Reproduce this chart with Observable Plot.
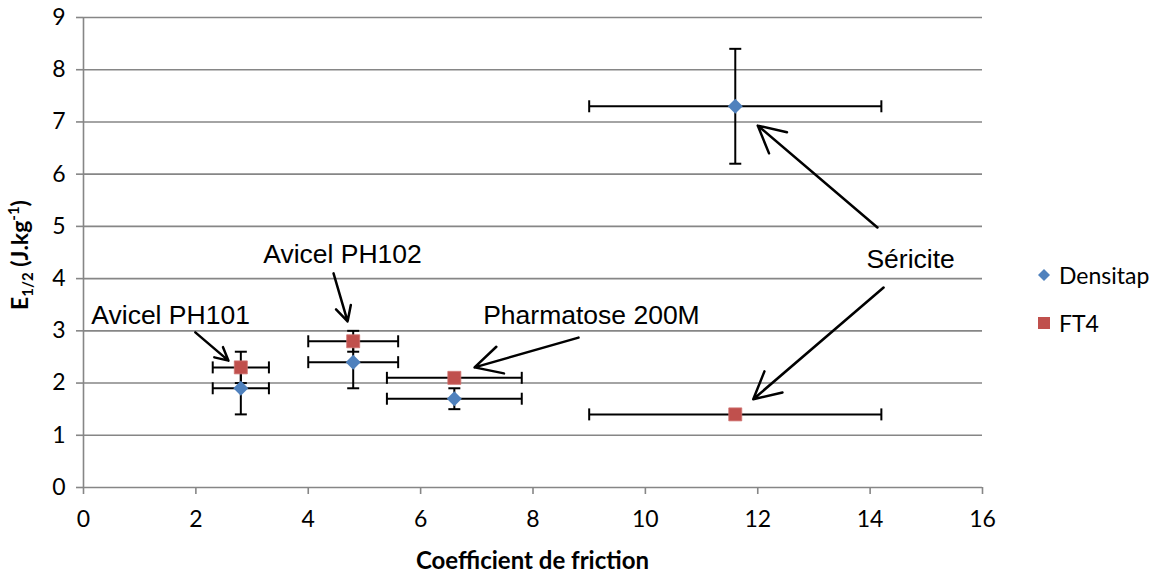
<!DOCTYPE html>
<html>
<head>
<meta charset="utf-8">
<script src="https://cdn.jsdelivr.net/npm/d3@7"></script>
<script src="https://cdn.jsdelivr.net/npm/@observablehq/plot@0.6"></script>
<style>
  html, body { margin: 0; padding: 0; background: #fff; }
  #wrap { position: relative; width: 1164px; height: 579px; font-family: Lato, sans-serif; }
  #wrap svg.chart { position: absolute; left: 0; top: 0; }
  .xtitle { position: absolute; left: 83px; width: 899px; top: 545px; text-align: center; font-weight: bold; font-size: 24px; }
  .ytitle { position: absolute; left: 20px; top: 255px; transform: translate(-50%, -50%) rotate(-90deg); white-space: nowrap; font-weight: bold; font-size: 23px; }
  .ytitle sub, .ytitle sup { font-size: 15px; }
  .legend { position: absolute; left: 1036px; font-size: 23px; }
  .legend div { position: absolute; white-space: nowrap; display: flex; align-items: center; height: 30px; }
  .legend svg { margin-right: 7px; }
</style>
</head>
<body>
<div id="wrap"></div>
<script>
// ---- data ----
const materials = ["Avicel PH101", "Avicel PH102", "Pharmatose 200M", "Séricite"];
const friction = [2.8, 4.8, 6.6, 11.6];
const frictionErr = [0.5, 0.8, 1.2, 2.6];
const densitap = [1.9, 2.4, 1.7, 7.3];
const densitapErr = [0.5, 0.5, 0.2, 1.1];
const ft4 = [2.3, 2.8, 2.1, 1.4];
const ft4Err = [0.3, 0.2, 0, 0];
const seriesNames = ["Densitap", "FT4"];
const seriesColors = ["#4F81BD", "#C0504D"];
const xTicks = [0, 2, 4, 6, 8, 10, 12, 14, 16];
const yTicks = [0, 1, 2, 3, 4, 5, 6, 7, 8, 9];
// annotation labels (data coordinates)
const labelText = ["Avicel PH101", "Avicel PH102", "Pharmatose 200M", "Séricite"];
const labelX = [1.55, 4.61, 9.04, 14.72];
const labelY = [3.29, 4.46, 3.29, 4.36];
// annotation arrows (data coordinates)
const arrowX1 = [1.99, 4.45, 8.81, 14.13, 14.24];
const arrowY1 = [2.97, 4.10, 2.87, 4.98, 3.83];
const arrowX2 = [2.58, 4.70, 6.96, 12.0, 11.92];
const arrowY2 = [2.43, 3.18, 2.30, 6.93, 1.69];

// ---- tables ----
const points = [];
materials.forEach((m, i) => {
  points.push({series: "Densitap", x: friction[i], xe: frictionErr[i], y: densitap[i], ye: densitapErr[i]});
  points.push({series: "FT4", x: friction[i], xe: frictionErr[i], y: ft4[i], ye: ft4Err[i]});
});
const vPts = points.filter(d => d.ye > 0);
const labels = labelText.map((t, i) => ({t, x: labelX[i], y: labelY[i]}));
const arrows = arrowX1.map((x1, i) => ({x1, y1: arrowY1[i], x2: arrowX2[i], y2: arrowY2[i]}));

const capV = {draw(c) { c.moveTo(0, -6); c.lineTo(0, 6); }};
const capH = {draw(c) { c.moveTo(-6, 0); c.lineTo(6, 0); }};
const diamond = {draw(c) { c.moveTo(0, -7.5); c.lineTo(7.5, 0); c.lineTo(0, 7.5); c.lineTo(-7.5, 0); c.closePath(); }};
const square = {draw(c) { c.rect(-6.5, -6.5, 13, 13); }};

const chart = Plot.plot({
  width: 1164, height: 579,
  marginLeft: 83, marginRight: 182, marginTop: 17, marginBottom: 92,
  x: {domain: [0, 16]},
  y: {domain: [0, 9]},
  style: {fontFamily: "Lato, sans-serif", fontSize: "23px", color: "#000", background: "transparent"},
  marks: [
    Plot.gridY(yTicks, {stroke: "#868686", strokeOpacity: 1, strokeWidth: 1.6}),
    Plot.ruleX([0], {stroke: "#868686", strokeWidth: 1.6}),
    Plot.axisY(yTicks, {tickSize: 7, tickPadding: 11, stroke: "#868686", strokeWidth: 1.6, label: null, tickFormat: d => String(d), fill: "#000", fontSize: 23}),
    Plot.axisX(xTicks, {tickSize: 7, tickPadding: 16, stroke: "#868686", strokeWidth: 1.6, label: null, tickFormat: d => String(d), fill: "#000", fontSize: 23}),
    // horizontal error bars
    Plot.link(points, {x1: d => d.x - d.xe, x2: d => d.x + d.xe, y1: "y", y2: "y", stroke: "#000", strokeWidth: 2}),
    Plot.dot(points, {x: d => d.x - d.xe, y: "y", symbol: capV, stroke: "#000", strokeWidth: 2, fill: "none"}),
    Plot.dot(points, {x: d => d.x + d.xe, y: "y", symbol: capV, stroke: "#000", strokeWidth: 2, fill: "none"}),
    // vertical error bars
    Plot.link(vPts, {x1: "x", x2: "x", y1: d => d.y - d.ye, y2: d => d.y + d.ye, stroke: "#000", strokeWidth: 2}),
    Plot.dot(vPts, {x: "x", y: d => d.y - d.ye, symbol: capH, stroke: "#000", strokeWidth: 2, fill: "none"}),
    Plot.dot(vPts, {x: "x", y: d => d.y + d.ye, symbol: capH, stroke: "#000", strokeWidth: 2, fill: "none"}),
    // markers
    Plot.dot(points.filter(d => d.series === "Densitap"), {x: "x", y: "y", symbol: diamond, fill: seriesColors[0], stroke: "none"}),
    Plot.dot(points.filter(d => d.series === "FT4"), {x: "x", y: "y", symbol: square, fill: seriesColors[1], stroke: "#CF7471", strokeWidth: 0.8}),
    // annotations
    Plot.arrow(arrows, {x1: "x1", y1: "y1", x2: "x2", y2: "y2", stroke: "#000", strokeWidth: 2.5, headLength: 18, headAngle: 55}),
    Plot.text(labels, {x: "x", y: "y", text: "t", fontFamily: "'Liberation Sans', Arial, sans-serif", fontSize: 26.5, fill: "#000", textAnchor: "middle"})
  ]
});
chart.classList.add("chart");
const wrap = document.getElementById("wrap");
wrap.appendChild(chart);

const xt = document.createElement("div");
xt.className = "xtitle";
xt.textContent = "Coefficient de friction";
wrap.appendChild(xt);

const yt = document.createElement("div");
yt.className = "ytitle";
yt.innerHTML = "E<sub>1/2</sub> (J.kg<sup>-1</sup>)";
wrap.appendChild(yt);

const leg = document.createElement("div");
leg.className = "legend";
const legY = [260, 308];
seriesNames.forEach((name, i) => {
  const row = document.createElement("div");
  row.style.top = legY[i] + "px";
  const shape = i === 0
    ? `<svg width="16" height="16"><path d="M8,2L14,8L8,14L2,8Z" fill="${seriesColors[0]}"/></svg>`
    : `<svg width="16" height="16"><rect x="2" y="2" width="12" height="12" fill="${seriesColors[1]}"/></svg>`;
  row.innerHTML = shape + `<span>${name}</span>`;
  leg.appendChild(row);
});
wrap.appendChild(leg);
</script>
</body>
</html>
